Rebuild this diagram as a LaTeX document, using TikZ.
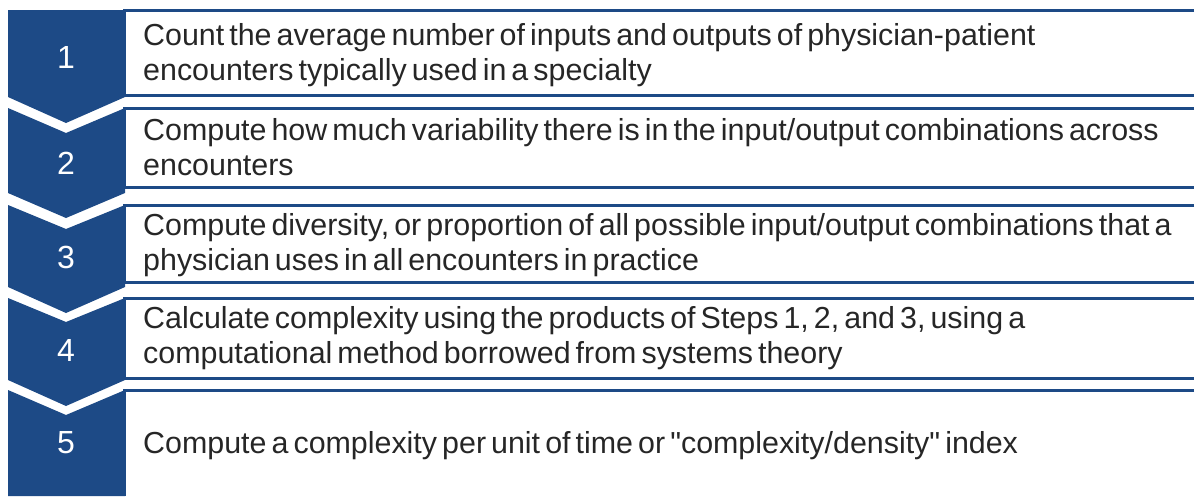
\documentclass[tikz,border=0pt]{standalone}
\usepackage{fontspec}
\setmainfont{Liberation Sans}[WordSpace=0.6,Ligatures=TeXOff]
\definecolor{navy}{HTML}{1D4A86}
\definecolor{txt}{HTML}{262626}
\begin{document}
\begin{tikzpicture}[x=1pt,y=-1pt,
  chev/.style={fill=navy,draw=none},
  num/.style={text=white,font=\fontsize{32}{32}\selectfont,inner sep=0pt},
  steptext/.style={anchor=base west,align=left,text=txt,inner sep=0pt,
     font=\fontsize{30.4}{35}\selectfont},
  rowline/.style={draw=navy,line width=3pt},
]
\useasboundingbox (0,0) rectangle (1196,496);
% chevrons
\fill[chev] (8,10) -- (125,10) -- (125,97) -- (66,123) -- (8,97) -- cycle;
\fill[chev] (8,108) -- (66,133) -- (125,108) -- (125,193) -- (66,218) -- (8,193) -- cycle;
\fill[chev] (8,205) -- (66,229) -- (125,205) -- (125,287) -- (66,313) -- (8,287) -- cycle;
\fill[chev] (8,298) -- (66,322) -- (125,298) -- (125,380) -- (66,406) -- (8,380) -- cycle;
\fill[chev] (8,390) -- (66,415) -- (125,390) -- (125,496) -- (8,496) -- cycle;
% row boxes
\draw[rowline] (1194,10) -- (124,10) -- (124,95) -- (1194,95);
\draw[rowline] (1194,108) -- (124,108) -- (124,187) -- (1194,187);
\draw[rowline] (1194,205) -- (124,205) -- (124,282) -- (1194,282);
\draw[rowline] (1194,298) -- (124,298) -- (124,378) -- (1194,378);
\draw[rowline] (1194,390) -- (124,390) -- (124,496);
% numbers
\node[num] (n1) at (66,57) {1};
\node[num] (n2) at (66,163) {2};
\node[num] (n3) at (66,257) {3};
\node[num] (n4) at (66,350) {4};
\node[num] (n5) at (66,443) {5};
% texts (base anchor = baseline of last line)
\node[steptext] (t1) at (143,80) {Count the average number of inputs and outputs of physician-patient\\encounters typically used in a specialty};
\node[steptext] (t2) at (143,175) {Compute how much variability there is in the input/output combinations across\\encounters};
\node[steptext] (t3) at (143,270) {Compute diversity, or proportion of all possible input/output combinations that a\\physician uses in all encounters in practice};
\node[steptext] (t4) at (143,363) {Calculate complexity using the products of Steps 1, 2, and 3, using a\\computational method borrowed from systems theory};
\node[steptext] (t5) at (143,453) {Compute a complexity per unit of time or "complexity/density" index};
\end{tikzpicture}
\end{document}
